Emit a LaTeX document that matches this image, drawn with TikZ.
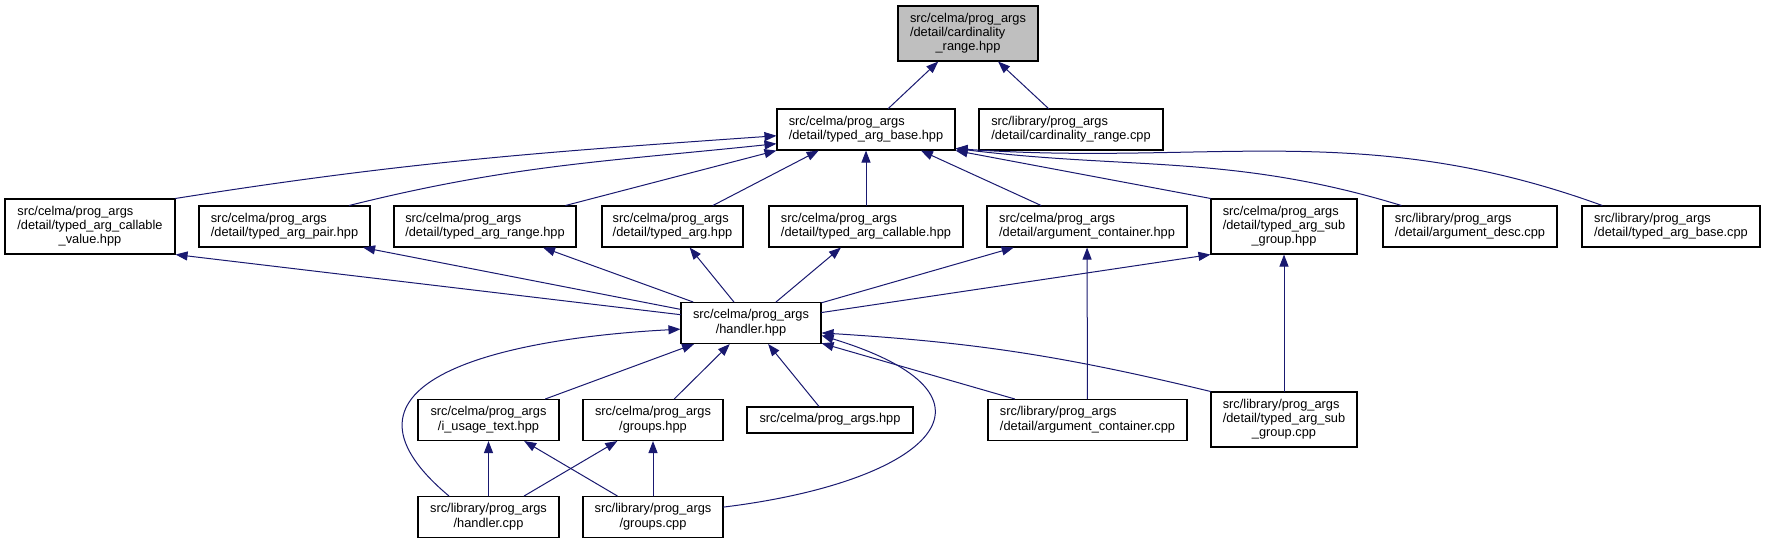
\documentclass[tikz,border=0pt]{standalone}
\usepackage{fontspec}
\setmainfont{Liberation Sans}
\usepackage{xcolor}
\definecolor{edgeblue}{RGB}{25,25,112}
\definecolor{rootgray}{RGB}{191,191,191}
\usepackage{tikz}
\usetikzlibrary{arrows.meta}
\newcommand{\FileOne}[1]{\begin{tabular}{@{}c@{}}#1\end{tabular}}
\newcommand{\FileTwo}[2]{\begin{tabular}{@{}l@{}}#1\\\multicolumn{1}{@{}c@{}}{#2}\end{tabular}}
\newcommand{\FileThree}[3]{\begin{tabular}{@{}l@{}}#1\\#2\\\multicolumn{1}{@{}c@{}}{#3}\end{tabular}}

\begin{document}
\begin{tikzpicture}[x=1pt,y=1pt,line cap=round]
	\tikzstyle{file}=[rectangle,draw=black,line width=1.1pt,fill=white,inner sep=0pt,font=\fontsize{12.8}{14.3}\selectfont];
	\tikzstyle{fileone}=[file,minimum height=26pt];
	\tikzstyle{filetwo}=[file,minimum height=41pt];
	\tikzstyle{filethree}=[file,minimum height=55pt];
	\tikzstyle{dep}=[edgeblue,line width=1pt,-{Triangle[length=12pt,width=9pt]}];
	\useasboundingbox[fill=white] (0,0) rectangle (1766,-543);
	%% Nodes
	\node[filethree,fill=rootgray,minimum width=140pt] (root) at (968,-33.5) {\FileThree{src/celma/prog\_args}{/detail/cardinality}{\_range.hpp}};
	\node[filetwo,minimum width=178pt] (base) at (866,-129.5) {\FileTwo{src/celma/prog\_args}{/detail/typed\_arg\_base.hpp}};
	\node[filetwo,minimum width=184pt] (cardcpp) at (1071,-129.5) {\FileTwo{src/library/prog\_args}{/detail/cardinality\_range.cpp}};
	%%
	\node[filethree,minimum width=170pt] (callval) at (90,-226.5) {\FileThree{src/celma/prog\_args}{/detail/typed\_arg\_callable}{\_value.hpp}};
	\node[filetwo,minimum width=171pt] (pair) at (284.5,-226.5) {\FileTwo{src/celma/prog\_args}{/detail/typed\_arg\_pair.hpp}};
	\node[filetwo,minimum width=182pt] (range) at (485,-226.5) {\FileTwo{src/celma/prog\_args}{/detail/typed\_arg\_range.hpp}};
	\node[filetwo,minimum width=141pt] (targ) at (672.5,-226.5) {\FileTwo{src/celma/prog\_args}{/detail/typed\_arg.hpp}};
	\node[filetwo,minimum width=194pt] (callable) at (866,-226.5) {\FileTwo{src/celma/prog\_args}{/detail/typed\_arg\_callable.hpp}};
	\node[filetwo,minimum width=200pt] (argcont) at (1087,-226.5) {\FileTwo{src/celma/prog\_args}{/detail/argument\_container.hpp}};
	\node[filethree,minimum width=146pt] (subgrp) at (1284,-226.5) {\FileThree{src/celma/prog\_args}{/detail/typed\_arg\_sub}{\_group.hpp}};
	\node[filetwo,minimum width=174pt] (argdesc) at (1470,-226.5) {\FileTwo{src/library/prog\_args}{/detail/argument\_desc.cpp}};
	\node[filetwo,minimum width=178pt] (basecpp) at (1671,-226.5) {\FileTwo{src/library/prog\_args}{/detail/typed\_arg\_base.cpp}};
	%%
	\node[filetwo,minimum width=140pt] (handler) at (751,-323) {\FileTwo{src/celma/prog\_args}{/handler.hpp}};
	%%
	\node[filetwo,minimum width=141pt] (usage) at (488.5,-420) {\FileTwo{src/celma/prog\_args}{/i\_usage\_text.hpp}};
	\node[filetwo,minimum width=140pt] (groups) at (653,-420) {\FileTwo{src/celma/prog\_args}{/groups.hpp}};
	\node[fileone,minimum width=166pt] (progargs) at (830,-420) {\FileOne{src/celma/prog\_args.hpp}};
	\node[filetwo,minimum width=199pt] (argcontcpp) at (1087.5,-420) {\FileTwo{src/library/prog\_args}{/detail/argument\_container.cpp}};
	\node[filethree,minimum width=146pt] (subgrpcpp) at (1284,-419.5) {\FileThree{src/library/prog\_args}{/detail/typed\_arg\_sub}{\_group.cpp}};
	\node[filetwo,minimum width=141pt] (handlercpp) at (488.5,-517) {\FileTwo{src/library/prog\_args}{/handler.cpp}};
	\node[filetwo,minimum width=140pt] (groupscpp) at (653,-517) {\FileTwo{src/library/prog\_args}{/groups.cpp}};
	%% Edges
	\draw[dep] (base) -- (root);
	\draw[dep] (cardcpp) -- (root);
	\draw[dep] (callval.north east) to[out=9,in=184] (base.184);
	\draw[dep] (pair.18) to[out=14,in=186] (base.189);
	\draw[dep] (range) -- (base.south west);
	\draw[dep] (targ) -- (base.204);
	\draw[dep] (callable) -- (base);
	\draw[dep] (argcont) -- (base.-21);
	\draw[dep] (subgrp.north west) -- (base.south east);
	\draw[dep] (argdesc.163) to[out=163,in=-7] (base.-12);
	\draw[dep] (basecpp.163) to[out=160,in=-4] (base.-12);
	%%
	\draw[dep] (handler) -- (callval.south east);
	\draw[dep] (handler) -- (pair.-15);
	\draw[dep] (handler) -- (range);
	\draw[dep] (handler) -- (targ);
	\draw[dep] (handler) -- (callable);
	\draw[dep] (handler) -- (argcont);
	\draw[dep] (handler) -- (subgrp.south west);
	\draw[dep] (argcontcpp) -- (argcont);
	\draw[dep] (subgrpcpp) -- (subgrp);
	%%
	\draw[dep] (usage) -- (handler);
	\draw[dep] (groups) -- (handler);
	\draw[dep] (progargs) -- (handler);
	\draw[dep] (argcontcpp) -- (handler);
	\draw[dep] (subgrpcpp.north west) to[bend right=5] (handler.-8);
	\draw[dep] (handlercpp.152) to[out=140,in=183,looseness=1.6] (handler.185);
	\draw[dep] (groupscpp.8) to[out=7,in=-17,looseness=2.7] (handler.-10);
	%%
	\draw[dep] (handlercpp) -- (usage);
	\draw[dep] (groupscpp) -- (usage);
	\draw[dep] (handlercpp) -- (groups);
	\draw[dep] (groupscpp) -- (groups);
\end{tikzpicture}
\end{document}
